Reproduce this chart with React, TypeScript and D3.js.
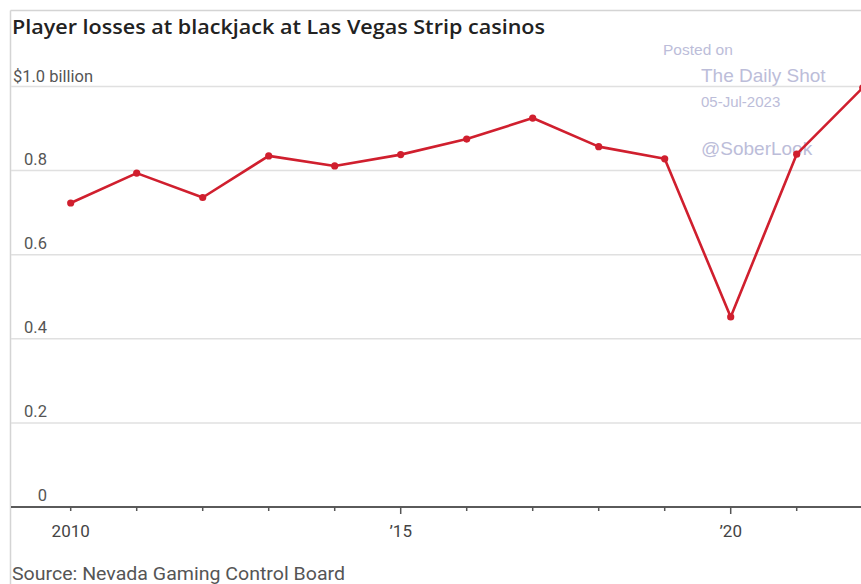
import React from "react";
import * as d3 from "d3";

const years = [2010, 2011, 2012, 2013, 2014, 2015, 2016, 2017, 2018, 2019, 2020, 2021, 2022];
const losses = [0.723, 0.794, 0.736, 0.835, 0.811, 0.838, 0.875, 0.925, 0.857, 0.828, 0.452, 0.839, 0.997];
const yTicks = [0, 0.2, 0.4, 0.6, 0.8, 1.0];
const yTickLabels = ["0", "0.2", "0.4", "0.6", "0.8", "$1.0 billion"];
const xMajor = [2010, 2015, 2020];
const xMajorLabels = ["2010", "\u201915", "\u201920"];

const W = 861;
const H = 584;
const RED = "#d01f2e";
const LBL = "Roboto, 'Noto Sans', sans-serif";
const WM = "#bcbdd9";

export default function App() {
  const x = d3.scaleLinear().domain([2010, 2022]).range([70.7, 862.7]);
  const y = d3.scaleLinear().domain([0, 1]).range([507, 86.5]);
  const line = d3
    .line<number>()
    .x((_, i) => x(years[i]))
    .y((d) => y(d));

  return (
    <svg
      width={W}
      height={H}
      style={{ position: "absolute", left: 0, top: 0, background: "#fff" }}
    >
      <rect x={0} y={0} width={W} height={H} fill="#fff" />
      {/* frame */}
      <line x1={10.5} x2={W} y1={10.5} y2={10.5} stroke="#d4d4d4" strokeWidth={1.5} />
      <line x1={10.5} x2={10.5} y1={10.5} y2={H} stroke="#d4d4d4" strokeWidth={1.5} />

      {/* title */}
      <text
        x={12}
        y={34}
        fontFamily="'Open Sans', sans-serif"
        fontWeight={600}
        fontSize={19}
        fill="#222"
        textLength={533}
        lengthAdjust="spacingAndGlyphs"
      >
        Player losses at blackjack at Las Vegas Strip casinos
      </text>

      {/* gridlines */}
      {yTicks.map((t) =>
        t === 0 ? null : (
          <line key={t} x1={11} x2={W} y1={y(t)} y2={y(t)} stroke="#e0e0e0" strokeWidth={1.5} />
        )
      )}
      {/* y labels */}
      {yTicks.map((t, i) =>
        i === yTicks.length - 1 ? (
          <text
            key={t}
            x={13}
            y={y(t) - 5}
            fontFamily={LBL}
            fontSize={16}
            fill="#555"
            textLength={80}
            lengthAdjust="spacingAndGlyphs"
          >
            {yTickLabels[i]}
          </text>
        ) : (
          <text
            key={t}
            x={47}
            y={y(t) - 6}
            textAnchor="end"
            fontFamily={LBL}
            fontSize={16.5}
            fill="#555"
          >
            {yTickLabels[i]}
          </text>
        )
      )}

      {/* watermark */}
      <g fontFamily="'Liberation Sans', Arial, sans-serif" fill={WM}>
        <text x={663} y={55} fontSize={15.5}>Posted on</text>
        <text x={701} y={82} fontSize={19}>The Daily Shot</text>
        <text x={701} y={107} fontSize={15}>05-Jul-2023</text>
        <text x={701} y={155} fontSize={19}>@SoberLook</text>
      </g>

      {/* x axis */}
      <line x1={11} x2={W} y1={y(0)} y2={y(0)} stroke="#5a5a5a" strokeWidth={2} />
      {years.map((yr) => (
        <line
          key={yr}
          x1={x(yr)}
          x2={x(yr)}
          y1={y(0)}
          y2={y(0) + (yr === 2015 || yr === 2020 ? 7 : 4)}
          stroke="#555"
          strokeWidth={1.5}
        />
      ))}
      {xMajor.map((yr, i) => (
        <text
          key={yr}
          x={x(yr)}
          y={536.5}
          textAnchor="middle"
          fontFamily={LBL}
          fontSize={17}
          fill="#444"
        >
          {xMajorLabels[i]}
        </text>
      ))}

      {/* data line */}
      <path d={line(losses) || ""} fill="none" stroke={RED} strokeWidth={2.6} strokeLinejoin="round" />
      {losses.map((v, i) => (
        <circle key={years[i]} cx={x(years[i])} cy={y(v)} r={3.6} fill={RED} />
      ))}

      {/* source */}
      <text
        x={12}
        y={580}
        fontFamily={LBL}
        fontSize={19}
        fill="#555"
        textLength={333}
        lengthAdjust="spacingAndGlyphs"
      >
        Source: Nevada Gaming Control Board
      </text>
    </svg>
  );
}
